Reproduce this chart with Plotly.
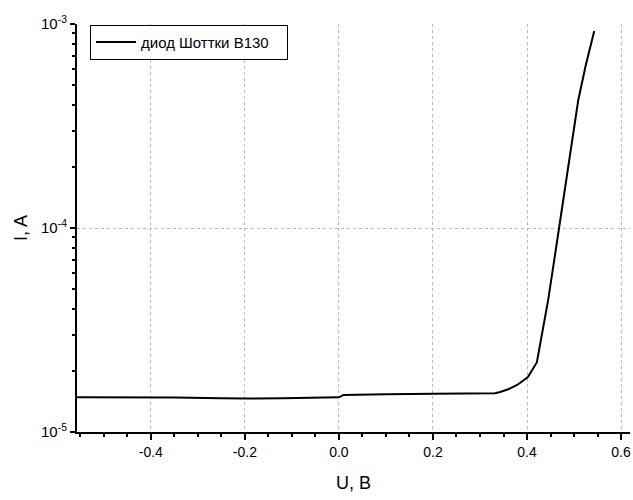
import plotly.graph_objects as go

# Data (U in volts, I in amperes)
voltage = [-0.557, -0.45, -0.35, -0.25, -0.2, -0.12, -0.05, 0.0, 0.01, 0.05, 0.1, 0.2, 0.3,
           0.332, 0.343, 0.36, 0.379, 0.402, 0.421, 0.428, 0.438, 0.445, 0.46, 0.477, 0.495,
           0.509, 0.525, 0.543]
current = [1.48e-5, 1.48e-5, 1.475e-5, 1.465e-5, 1.46e-5, 1.465e-5, 1.47e-5, 1.48e-5, 1.52e-5,
           1.52e-5, 1.53e-5, 1.54e-5, 1.55e-5,
           1.55e-5, 1.57e-5, 1.62e-5, 1.70e-5, 1.86e-5, 2.20e-5, 2.73e-5, 3.54e-5, 4.44e-5,
           7.5e-5, 1.37e-4, 2.5e-4, 4.24e-4, 6.3e-4, 9.25e-4]

x_ticks = [-0.4, -0.2, 0.0, 0.2, 0.4, 0.6]
x_tick_labels = ["-0.4", "-0.2", "0.0", "0.2", "0.4", "0.6"]
y_ticks = [1e-5, 1e-4, 1e-3]
y_tick_labels = ["10<sup>-5</sup>", "10<sup>-4</sup>", "10<sup>-3</sup>"]

series_name = "диод Шоттки B130"

fig = go.Figure()
fig.add_trace(go.Scatter(x=voltage, y=current, mode="lines", name=series_name + "\u00a0\u00a0\u00a0",
                         line=dict(color="black", width=2)))

font = "Liberation Sans, Arial, sans-serif"
fig.update_layout(
    width=633, height=500,
    margin=dict(l=77, r=3, t=24, b=68),
    paper_bgcolor="white", plot_bgcolor="white",
    font=dict(family=font, color="black", size=14),
    showlegend=True,
    legend=dict(x=0.0235, y=0.998, xanchor="left", yanchor="top",
                bordercolor="black", borderwidth=1, bgcolor="white",
                itemwidth=40, tracegroupgap=0,
                font=dict(size=15, family=font)),
    xaxis=dict(
        range=[-0.557, 0.619], automargin=False, ticklabeloverflow="allow",
        tickvals=x_ticks, ticktext=x_tick_labels,
        showline=True, linecolor="black", linewidth=2,
        ticks="outside", ticklen=6, tickwidth=1.5, tickcolor="black",
        minor=dict(dtick=0.05, ticks="outside", ticklen=3, tickcolor="black", showgrid=False),
        showgrid=True, gridcolor="#b8b8b8", griddash="dot", gridwidth=1,
        zeroline=False, tickfont=dict(size=14),
        title=dict(text="U, B", font=dict(size=18, family=font), standoff=18),
    ),
    yaxis=dict(
        type="log", range=[-5, -3], automargin=False,
        tickvals=y_ticks, ticktext=y_tick_labels,
        showline=True, linecolor="black", linewidth=2,
        ticks="outside", ticklen=5, tickwidth=1.5, tickcolor="black",
        minor=dict(dtick="D1", ticks="outside", ticklen=3, tickcolor="black", showgrid=False),
        showgrid=True, gridcolor="#b8b8b8", griddash="dot", gridwidth=1,
        zeroline=False, tickfont=dict(size=15),
        title=dict(text="I, A", font=dict(size=18, family=font), standoff=9),
    ),
)

fig.write_html("out.html", config={"displayModeBar": False},
               post_script="document.body.style.margin='0';document.body.style.overflow='hidden';")
